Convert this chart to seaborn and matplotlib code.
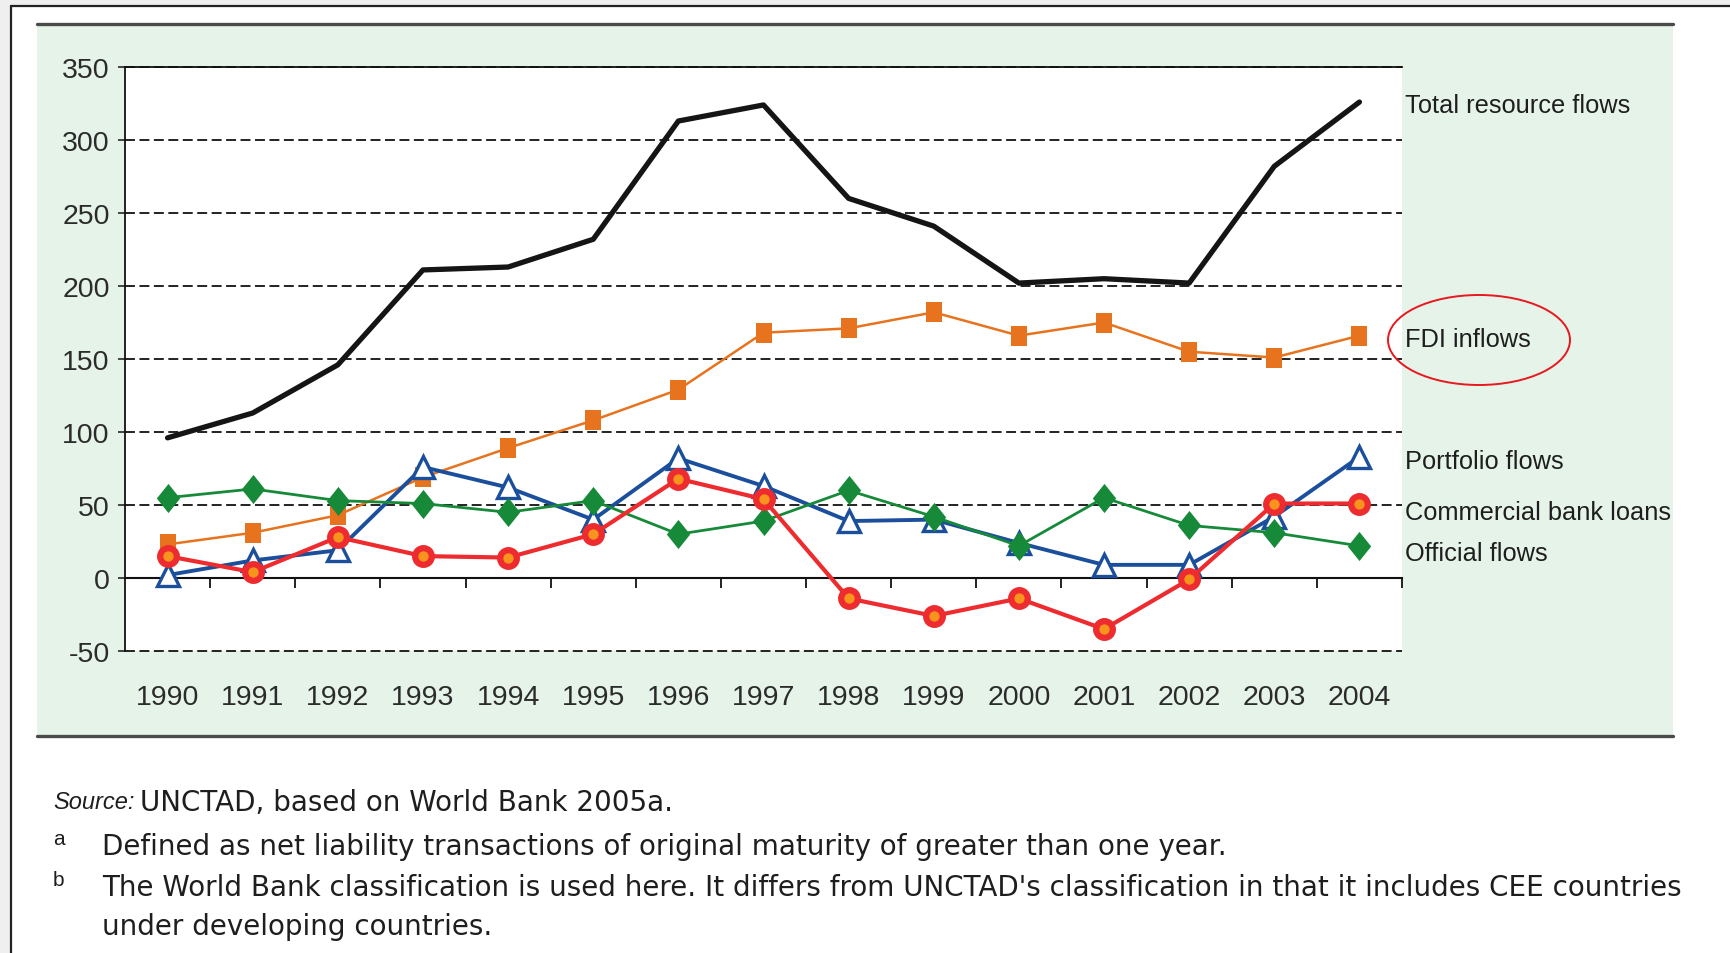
import numpy as np
import pandas as pd
import matplotlib.pyplot as plt
import seaborn as sns
from matplotlib.patches import Rectangle, Ellipse
from matplotlib.lines import Line2D

# data (billions of dollars)
years = list(range(1990, 2005))
total_flows = [96, 113, 146, 211, 213, 232, 313, 324, 260, 241, 202, 205, 202, 282, 326]
fdi_inflows = [23, 31, 43, 69, 89, 108, 129, 168, 171, 182, 166, 175, 155, 151, 166]
portfolio_flows = [2, 12, 19, 76, 62, 40, 82, 63, 39, 40, 24, 9, 9, 42, 83]
bank_loans = [15, 4, 28, 15, 14, 30, 68, 54, -14, -26, -14, -35, -1, 51, 51]
official_flows = [55, 61, 53, 51, 45, 53, 30, 39, 60, 42, 22, 55, 36, 31, 22]
y_ticks = [-50, 0, 50, 100, 150, 200, 250, 300, 350]

series_names = ['Total resource flows', 'FDI inflows', 'Portfolio flows',
                'Commercial bank loans', 'Official flows']
label_y = [324, 164, 80, 45, 17]

W, H = 1731, 954
sns.set_style('white')
plt.rcParams['font.family'] = ['Liberation Sans', 'DejaVu Sans']
plt.rcParams['axes.unicode_minus'] = False

# slightly tall marker shapes, as in the original
tall_diamond = [(0, 1), (0.8, 0), (0, -1), (-0.8, 0), (0, 1)]
tall_square = [(-0.8, -1), (0.8, -1), (0.8, 1), (-0.8, 1), (-0.8, -1)]

fig = plt.figure(figsize=(W / 100, H / 100), dpi=100)
fig.patch.set_facecolor('white')

# screenshot frame: grey strips and dark edges
fig.add_artist(Rectangle((0, 1 - 6 / H), 1, 6 / H, transform=fig.transFigure,
                         facecolor='#efefef', edgecolor='none', zorder=0))
fig.add_artist(Rectangle((0, 0), 10 / W, 1, transform=fig.transFigure,
                         facecolor='#efefef', edgecolor='none', zorder=0))
fig.add_artist(Line2D([11 / W, 1], [1 - 7 / H, 1 - 7 / H], transform=fig.transFigure,
                      color='#222222', lw=1.6))
fig.add_artist(Line2D([11 / W, 11 / W], [0, 1 - 7 / H], transform=fig.transFigure,
                      color='#222222', lw=1.6))

# light green panel behind the chart
px0, px1, py0, py1 = 37, 1673, 25, 737
fig.add_artist(Rectangle((px0 / W, 1 - py1 / H), (px1 - px0) / W, (py1 - py0) / H,
                         transform=fig.transFigure, facecolor='#e6f3e9',
                         edgecolor='none', zorder=0))
for yy in (py0, py1):
    fig.add_artist(Line2D([px0 / W, px1 / W], [1 - yy / H, 1 - yy / H],
                          transform=fig.transFigure, color='#4a4a4a', lw=2.4))

ax = fig.add_axes([125 / W, 1 - 652 / H, (1402 - 125) / W, (652 - 68) / H])
ax.set_facecolor('white')

sns.lineplot(x=years, y=fdi_inflows, ax=ax, color='#e8731e', lw=1.8,
             marker=tall_square, markersize=15, markeredgewidth=0, zorder=3)
sns.lineplot(x=years, y=portfolio_flows, ax=ax, color='#1b4f9c', lw=2.8,
             marker='^', markersize=16, markerfacecolor='white',
             markeredgecolor='#1b4f9c', markeredgewidth=2.4, zorder=4)
sns.lineplot(x=years, y=official_flows, ax=ax, color='#178a3a', lw=2.0,
             marker=tall_diamond, markersize=21, markeredgewidth=0, zorder=5)
sns.lineplot(x=years, y=bank_loans, ax=ax, color='#ee2b2e', lw=3.0,
             marker='o', markersize=12, markerfacecolor='#f7941d',
             markeredgecolor='#ee2b2e', markeredgewidth=4.5, zorder=6)
sns.lineplot(x=years, y=total_flows, ax=ax, color='#151515', lw=3.8, zorder=7)

ymin, ymax = y_ticks[0], y_ticks[-1]
ax.set_xlim(years[0] - 0.5, years[-1] + 0.5)
ax.set_ylim(ymin, ymax)
ax.set_yticks(y_ticks)
ax.set_xticks(years)
ax.set_xticklabels([str(y) for y in years])
ax.tick_params(axis='x', length=0, pad=24, labelsize=20.5, labelcolor='#2b2b2b')
ax.tick_params(axis='y', direction='out', length=5, width=1.2, pad=6,
               labelsize=20.5, labelcolor='#2b2b2b', left=True)
ax.set_xlabel('')
ax.set_ylabel('')

ax.yaxis.grid(True, linestyle=(0, (5.5, 2.5)), color='#111111', lw=1.3)
ax.xaxis.grid(False)
for gl in ax.get_ygridlines():
    gl.set_clip_on(False)
for side in ('bottom', 'right'):
    ax.spines[side].set_visible(False)
for side in ('left', 'top'):
    ax.spines[side].set_color('#111111')
    ax.spines[side].set_linewidth(1.3)

# zero line with category boundary ticks
zero_pos = (0 - ymin) / (ymax - ymin)
sec = ax.secondary_xaxis(zero_pos)
sec.set_xticks([y + 0.5 for y in years])
sec.set_xticklabels([])
sec.tick_params(axis='x', direction='out', length=7, width=1.3, color='#111111')
sec.spines['bottom'].set_color('#111111')
sec.spines['bottom'].set_linewidth(1.5)

# series labels to the right of the plot
for name, yv in zip(series_names, label_y):
    ax.annotate(name, xy=(1.002, yv), xycoords=('axes fraction', 'data'),
                va='center', ha='left', fontsize=18.3, color='#1e1e1e',
                annotation_clip=False)

# red ellipse highlighting FDI inflows
fig.add_artist(Ellipse((1479 / W, 1 - 341 / H), 182 / W, 90 / H,
                       transform=fig.transFigure, facecolor='none',
                       edgecolor='#e8181e', lw=1.4, zorder=10))

# source and notes
fs = 20
note_font = ['DejaVu Sans']
fig.text(53 / W, 1 - 803 / H, 'Source:', fontsize=17, style='italic',
         va='center', color='#1e1e1e')
fig.text(140 / W, 1 - 803 / H, 'UNCTAD, based on World Bank 2005a.', fontsize=fs,
         family=note_font, va='center', color='#1e1e1e')
fig.text(53 / W, 1 - 840 / H, 'a', fontsize=15, va='center', color='#1e1e1e')
fig.text(102 / W, 1 - 847 / H,
         'Defined as net liability transactions of original maturity of greater than one year.',
         fontsize=fs, family=note_font, va='center', color='#1e1e1e')
fig.text(53 / W, 1 - 881 / H, 'b', fontsize=15, va='center', color='#1e1e1e')
fig.text(102 / W, 1 - 888 / H,
         "The World Bank classification is used here. It differs from UNCTAD's "
         "classification in that it includes CEE countries",
         fontsize=fs, family=note_font, va='center', color='#1e1e1e')
fig.text(102 / W, 1 - 927 / H, 'under developing countries.', fontsize=fs,
         family=note_font, va='center', color='#1e1e1e')

fig.savefig('out.png', dpi=100)
plt.close(fig)
